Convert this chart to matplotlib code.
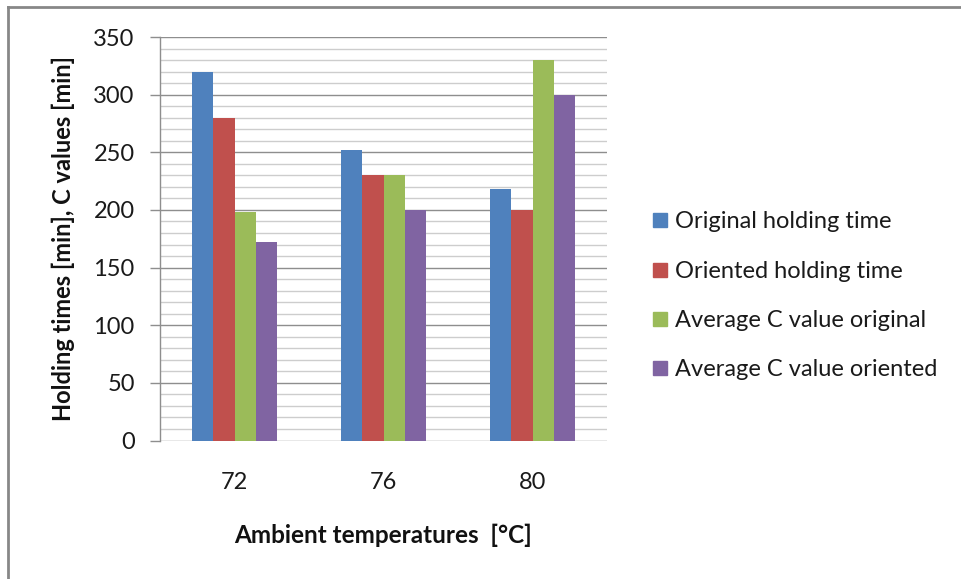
import numpy as np
import matplotlib
matplotlib.use("Agg")
import matplotlib.pyplot as plt
from matplotlib.lines import Line2D

plt.rcParams['font.family'] = ['Lato', 'DejaVu Sans']

# data
temperatures = ['72', '76', '80']
series_names = ['Original holding time', 'Oriented holding time',
                'Average C value original', 'Average C value oriented']
original_holding = [320, 252, 218]
oriented_holding = [280, 230, 200]
avg_c_original = [198, 230, 330]
avg_c_oriented = [172, 200, 300]
series_values = [original_holding, oriented_holding, avg_c_original, avg_c_oriented]
colors = ['#4F81BD', '#C0504D', '#9BBB59', '#8064A2']

fig = plt.figure(figsize=(9.61, 5.79), dpi=100)
# axes placed to match the pixel layout of the reference
ax = fig.add_axes([160 / 961, 1 - 440.5 / 579, 447 / 961, 403.5 / 579])

x = np.arange(len(temperatures))
width = 0.142
for i, (vals, col) in enumerate(zip(series_values, colors)):
    ax.bar(x + (i - 1.5) * width, vals, width, color=col, zorder=3,
           edgecolor='none', label=series_names[i])

ax.set_xlim(-0.5, 2.5)
ax.set_ylim(0, 350)
ax.set_yticks(np.arange(0, 351, 50))
ax.set_yticks(np.arange(0, 351, 10), minor=True)
ax.grid(which='minor', axis='y', color='#cdcdcd', lw=1.0, zorder=0)
ax.grid(which='major', axis='y', color='#8e8e8e', lw=1.0, zorder=1)

ax.set_xticks(x)
ax.set_xticklabels(temperatures)
ax.tick_params(axis='x', length=0, pad=23, labelsize=17, labelcolor='#1a1a1a')
ax.tick_params(axis='y', which='major', length=7.2, width=1.0, color='#8e8e8e',
               direction='out', pad=11, labelsize=17, labelcolor='#1a1a1a')
ax.tick_params(axis='y', which='minor', length=0)

for side in ['top', 'right', 'bottom']:
    ax.spines[side].set_visible(False)
ax.spines['left'].set_color('#8e8e8e')
ax.spines['left'].set_linewidth(1.0)

ax.set_ylabel('Holding times [min], C values [min]', fontsize=17,
              fontweight='bold', labelpad=13, color='#111111')
ax.set_xlabel('Ambient temperatures  [°C]', fontsize=17.5, fontweight='bold',
              labelpad=22, color='#111111')

handles = [Line2D([], [], marker='s', linestyle='none', markersize=10,
                  markerfacecolor=c, markeredgecolor=c) for c in colors]
fig.legend(handles, series_names, loc='center left',
           bbox_to_anchor=(630 / 961, 1 - 296 / 579), frameon=False,
           fontsize=17, labelspacing=1.2, handlelength=0.7,
           handletextpad=0.3, labelcolor='#1a1a1a')

# chart area border (only top and left visible in the crop)
fig.add_artist(Line2D([8 / 961, 1.0], [1 - 7 / 579, 1 - 7 / 579],
                      color='#878787', lw=2, transform=fig.transFigure))
fig.add_artist(Line2D([8 / 961, 8 / 961], [1 - 7 / 579, 0.0],
                      color='#878787', lw=2, transform=fig.transFigure))

fig.savefig('out.png', dpi=100)
